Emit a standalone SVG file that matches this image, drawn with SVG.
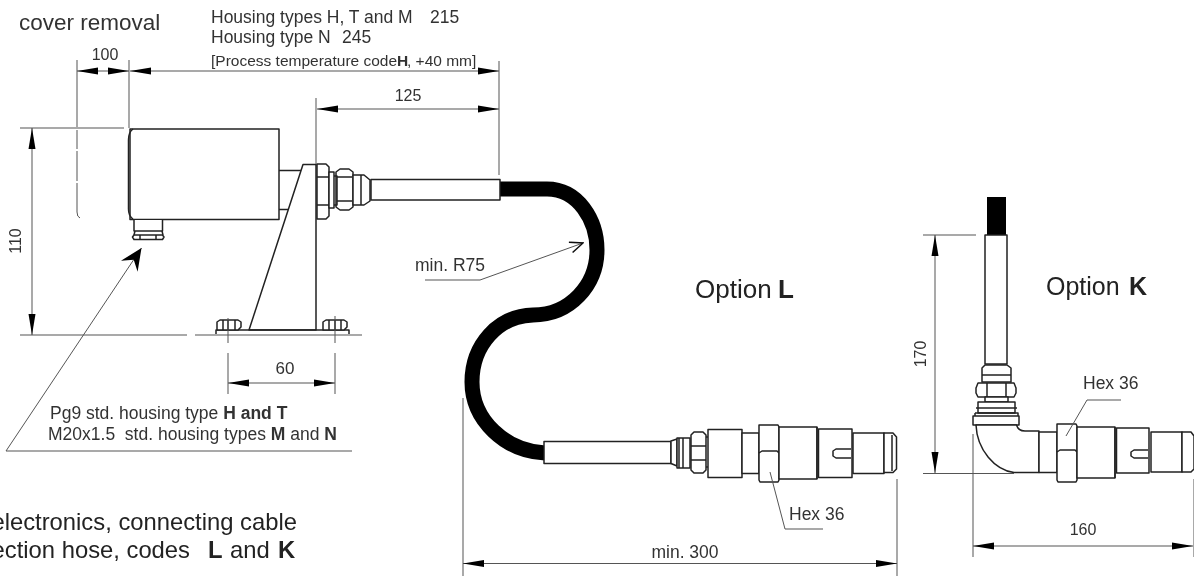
<svg xmlns="http://www.w3.org/2000/svg" width="1194" height="576" viewBox="0 0 1194 576">
<style>
text{font-family:"Liberation Sans",Arial,sans-serif;fill:#333}
.s{font-size:17.500px}.m{font-size:16px}.l{font-size:23.800px;fill:#222}.o{font-size:25px;fill:#222}.b{font-weight:bold}
.p{fill:none;stroke:#222;stroke-width:1.5;stroke-linejoin:round}
.w{fill:#fff;stroke:#222;stroke-width:1.5;stroke-linejoin:round}
.d{fill:none;stroke:#555;stroke-width:1}
.a{marker-start:url(#ar);marker-end:url(#ar)}
.h{fill:none;stroke:#000;stroke-width:15;stroke-linecap:butt}
</style>
<defs>
<marker id="ar" viewBox="-21 -4 21 8" refX="0" refY="0" markerUnits="userSpaceOnUse" markerWidth="21" markerHeight="8" orient="auto-start-reverse"><path d="M-21,-3.500L0,0L-21,3.500z" fill="#000"/></marker>
<marker id="lead" viewBox="-23 -11 24 22" refX="0" refY="0" markerUnits="userSpaceOnUse" markerWidth="24" markerHeight="22" orient="auto-start-reverse"><path d="M-22,-10L0,0L-22,10L-14,0z" fill="#000"/></marker>
<marker id="open" viewBox="-15 -7 16 14" refX="0" refY="0" markerUnits="userSpaceOnUse" markerWidth="16" markerHeight="14" orient="auto"><path d="M-13,-5.500L0,0L-13,5.500" fill="none" stroke="#111" stroke-width="1.500"/></marker>
<filter id="soft" x="0" y="0" width="100%" height="100%"><feGaussianBlur stdDeviation="0.4"/></filter>
</defs>
<rect width="1194" height="576" fill="#fff"/>
<g filter="url(#soft)">
<g id="hose-l">
<path class="h" d="M500,189H547C578,189 597,220 597,250C597,285 570,315 533,315C498,316 472,345 472,382C472,420 505,451 545,453"/>
</g>
<g id="hose-k"><rect x="987" y="197" width="19" height="38" fill="#000"/></g>
<g id="housing">
<rect class="w" x="130" y="129" width="149" height="90.500"/>
<path class="p" d="M133,129Q128.500,132 128.500,140V209Q128.500,216 133,219"/>
<path class="p" d="M279,170.500H304M279,209.500H290"/>
<path class="w" d="M134,220V231H162.500V220"/>
<path class="w" d="M134,235H162.500L164,237L162.500,239.500H134L132.500,237z"/>
<path class="p" d="M140,235V239.500M156,235V239.500M135,231L134,235M162,231L163,235"/>
</g>
<g id="bracket">
<path class="w" d="M303,164.500H316V330H249z"/>
<path class="p" d="M216,334V330H349V334"/>
<path class="w" d="M317,164H326L329,167V216L326,219H317z"/>
<path class="p" d="M317,177H329M317,205H329"/>
<path class="w" d="M329,172H334V208H329z"/>
<path class="w" d="M336,172L340,169H349L353,172V207L349,210H340L336,207z"/>
<path class="p" d="M337,177H352M337,201H352M334,176H337V205H334"/>
<path class="w" d="M353,175H364L370,180V201L364,205H353z"/>
<path class="p" d="M361,175V205"/>
<rect class="w" x="371" y="179.500" width="129" height="20.500"/>
<path class="w" d="M217,330V322L220,320H238L241,322V327L238,330z"/>
<path class="p" d="M223,320V330M228,320V330M235,320V330"/>
<path class="w" d="M323,330V322L326,320H344L347,322V327L344,330z"/>
<path class="p" d="M329,320V330M335,320V330M341,320V330"/>
</g>
<g id="fitting-l">
<rect class="w" x="544" y="441.500" width="127" height="22"/>
<path class="w" d="M671,441L677,439V466L671,463.500z"/>
<path class="w" d="M677,438H690V468H677z"/>
<path class="p" d="M683,438V468M679,438V468"/>
<path class="w" d="M691,435L694,432H703L706,435V470L703,473H694L691,470z"/>
<path class="p" d="M691,446H706M691,460H706M706,437H708M706,467H708"/>
<rect class="w" x="708" y="429.500" width="34" height="48"/>
<rect class="w" x="742" y="433" width="17" height="40.500"/>
<path class="w" d="M759,425H778L779,427V480L778,482H760L759,480z"/>
<path class="p" d="M759,453L762,451H777L779,453"/>
<rect class="w" x="779" y="427" width="38" height="52"/>
<path class="p" d="M817,427V479" stroke-width="2"/>
<rect class="w" x="818.500" y="429" width="33.500" height="48.500"/>
<path class="p" d="M851,449H836L833,451V456L836,458H851"/>
<rect class="w" x="853" y="433" width="31" height="40.500"/>
<path class="w" d="M884,433H893L896.500,437V469L893,472.500H884z"/>
<path class="p" d="M892,435V471"/>
</g>
<g id="fitting-k">
<rect class="w" x="985" y="235" width="22" height="129"/>
<path class="w" d="M982,368L985,365H1007L1011,368V382H982z"/>
<path class="p" d="M982,375H1011"/>
<path class="w" d="M978,383H1014L1016,388V393L1014,397H978L976,393V388z"/>
<path class="p" d="M987,383V397M1006,383V397"/>
<path class="w" d="M985,397H1008V402H985z"/>
<path class="w" d="M978,402H1015V413H978z"/>
<path class="p" d="M976,408H1017"/>
<path class="w" d="M973,416H1019V425H973z"/>
<path class="p" d="M975,413H1018V416M975,413V416"/>
<path class="w" d="M976,425C977,450 995,470 1014,472.500H1039V431H1025Q1018,431 1016.500,425z"/>
<rect class="w" x="1039" y="432" width="18" height="40.500"/>
<path class="w" d="M1057,424H1076L1077,426V480L1076,482H1058L1057,480z"/>
<path class="p" d="M1057,452L1060,450H1075L1077,452"/>
<rect class="w" x="1077" y="427" width="38" height="51"/>
<path class="p" d="M1115,427V478" stroke-width="2"/>
<rect class="w" x="1116.500" y="428" width="32.500" height="45"/>
<path class="p" d="M1148,450H1134L1131,452V456L1134,458H1148"/>
<rect class="w" x="1151" y="432" width="31" height="40"/>
<path class="w" d="M1182,432H1191L1194,436V469L1191,472H1182z"/>
</g>
<g id="connectors">
<path class="d" d="M77,60V127M77,130V149M77,151V181M77,183V212Q77,217 80,218M129,60V128M499,61V175M316,98V164"/>
<path class="d" d="M20,128H124M20,335H187M195,335H362M228,318V343M335,316V343M228,353V394M335,353V394"/>
<line class="d a" x1="77" y1="71" x2="129" y2="71"/>
<line class="d a" x1="130" y1="71" x2="499" y2="71"/>
<line class="d a" x1="317" y1="109" x2="499" y2="109"/>
<line class="d a" x1="32" y1="128" x2="32" y2="335"/>
<line class="d a" x1="228" y1="383" x2="335" y2="383"/>
<path class="d" d="M141.500,248L6,451H352" marker-start="url(#lead)"/>
<path class="d" d="M425,280H480L583,243" marker-end="url(#open)"/>
<path class="d" d="M463,398V576M897,479V576M770,472L785,529H823"/>
<line class="d a" x1="463" y1="563.500" x2="897" y2="563.500"/>
<path class="d" d="M923,235H976M923,473.500H1014M973,434V557M1194,479V557"/>
<line class="d a" x1="935" y1="235" x2="935" y2="473"/>
<line class="d a" x1="973" y1="546" x2="1193" y2="546"/>
<path class="d" d="M1066,436L1087,400H1121"/>
</g>
<g id="labels">
<text x="19" y="30" style="font-size:22.500px">cover removal</text>
<text class="s" x="211" y="23">Housing types H, T and M<tspan x="430">215</tspan></text>
<text class="s" x="211" y="43">Housing type N<tspan x="342">245</tspan></text>
<text x="211" y="66" style="font-size:15.500px">[Process temperature code<tspan class="b" x="397">H</tspan><tspan x="407">, +40 mm]</tspan></text>
<text class="m" x="105" y="60" text-anchor="middle">100</text>
<text class="m" x="408" y="101" text-anchor="middle">125</text>
<text class="m" transform="translate(21,241) rotate(-90)" text-anchor="middle">110</text>
<text class="m" x="285" y="374" style="font-size:17px" text-anchor="middle">60</text>
<text class="s" x="415" y="271">min. R75</text>
<text class="s" x="50" y="419">Pg9 std. housing type <tspan class="b">H and T</tspan></text>
<text class="s" x="48" y="440" xml:space="preserve">M20x1.5  std. housing types <tspan class="b">M</tspan> and <tspan class="b">N</tspan></text>
<text class="l" x="297" y="530" text-anchor="end">electronics, connecting cable</text>
<text class="l" x="190" y="558" text-anchor="end">ection hose, codes</text>
<text class="l" x="208" y="558"><tspan class="b">L</tspan><tspan x="230">and</tspan><tspan class="b" x="278">K</tspan></text>
<text x="695" y="298" style="font-size:26px;fill:#222">Option<tspan class="b" x="778">L</tspan></text>
<text class="o" x="1046" y="295">Option<tspan class="b" x="1129">K</tspan></text>
<text class="s" x="789" y="520">Hex 36</text>
<text class="s" x="1083" y="389">Hex 36</text>
<text class="s" x="685" y="558" text-anchor="middle">min. 300</text>
<text class="m" x="1083" y="535" text-anchor="middle">160</text>
<text class="m" transform="translate(926,354) rotate(-90)" text-anchor="middle">170</text>
</g>
</g>
</svg>
